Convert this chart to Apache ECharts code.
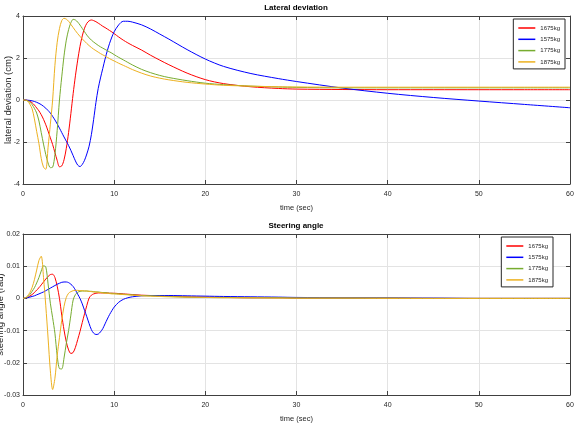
<!DOCTYPE html>
<html>
<head>
<meta charset="utf-8">
<script src="https://cdn.jsdelivr.net/npm/echarts@6/dist/echarts.min.js"></script>
<style>
  html, body { margin: 0; padding: 0; background: #fff; }
  #main { width: 576px; height: 430px; }
</style>
</head>
<body>
<div id="main"></div>
<script>
  // time in seconds, shared by every curve
  const time = [
    0, 0.25, 0.5, 0.75, 1, 1.25, 1.5, 1.75, 2, 2.25, 2.5, 2.75, 3, 3.25, 3.5, 3.75,
    4, 4.25, 4.5, 4.75, 5, 5.25, 5.5, 5.75, 6, 6.25, 6.5, 6.75, 7, 7.25, 7.5, 7.75,
    8, 8.25, 8.5, 8.75, 9, 9.25, 9.5, 9.75, 10, 10.5, 11, 11.5, 12, 13, 14, 15, 16,
    18, 20, 22, 25, 28, 30, 35, 40, 45, 50, 55, 60
  ]
  const masses = ['1675kg', '1575kg', '1775kg', '1875kg']

  // lateral deviation (cm)
  const lat1675 = [
    0, 0, -0.02, -0.06, -0.13, -0.24, -0.38, -0.52, -0.7, -0.92, -1.18, -1.48, -1.8, -2.12, -2.5, -2.88,
    -3.18, -3.14, -2.85, -2.3, -1.55, -0.65, 0.3, 1.15, 1.9, 2.55, 3.05, 3.42, 3.65, 3.77, 3.81, 3.78,
    3.73, 3.66, 3.59, 3.51, 3.45, 3.38, 3.31, 3.24, 3.16, 3.0, 2.85, 2.72, 2.6, 2.38, 2.13, 1.9, 1.68,
    1.28, 0.97, 0.78, 0.63, 0.55, 0.52, 0.5, 0.49, 0.49, 0.49, 0.49, 0.49
  ]
  const lat1575 = [
    0, 0, -0.01, -0.02, -0.04, -0.07, -0.11, -0.16, -0.22, -0.3, -0.39, -0.5, -0.62, -0.78, -0.95, -1.14,
    -1.34, -1.55, -1.76, -1.96, -2.17, -2.4, -2.65, -2.9, -3.1, -3.17, -3.07, -2.87, -2.57, -2.2, -1.65, -0.92,
    -0.12, 0.55, 1.05, 1.5, 1.95, 2.35, 2.7, 3.0, 3.25, 3.58, 3.75, 3.75, 3.71, 3.58, 3.38, 3.14, 2.9,
    2.4, 1.95, 1.6, 1.26, 1.02, 0.88, 0.57, 0.32, 0.12, -0.05, -0.21, -0.37
  ]
  const lat1775 = [
    0, -0.01, -0.03, -0.1, -0.22, -0.4, -0.62, -1.0, -1.55, -2.1, -2.6, -3.0, -3.22, -3.2, -2.6, -1.45,
    0, 1.1, 2.1, 2.85, 3.35, 3.68, 3.84, 3.81, 3.71, 3.57, 3.41, 3.25, 3.09, 2.96, 2.85, 2.76,
    2.68, 2.6, 2.53, 2.47, 2.41, 2.35, 2.29, 2.23, 2.16, 2.03, 1.91, 1.79, 1.67, 1.46, 1.3, 1.17, 1.07,
    0.92, 0.8, 0.73, 0.66, 0.62, 0.6, 0.58, 0.58, 0.58, 0.58, 0.58, 0.58
  ]
  const lat1875 = [
    0, -0.01, -0.05, -0.2, -0.42, -0.9, -1.5, -2.08, -2.78, -3.2, -3.3, -2.25, -1.15, 0, 1.65, 2.75,
    3.4, 3.78, 3.89, 3.85, 3.75, 3.6, 3.45, 3.3, 3.16, 3.03, 2.91, 2.8, 2.69, 2.59, 2.5, 2.42,
    2.35, 2.28, 2.21, 2.15, 2.09, 2.03, 1.97, 1.91, 1.86, 1.75, 1.65, 1.55, 1.45, 1.28, 1.14, 1.04, 0.96,
    0.84, 0.76, 0.7, 0.66, 0.63, 0.62, 0.61, 0.61, 0.61, 0.61, 0.61, 0.61
  ]

  // steering angle (rad)
  const steer1675 = [
    0, 0.0001, 0.0003, 0.0007, 0.0012, 0.0018, 0.0026, 0.0033, 0.0042, 0.0051, 0.006, 0.0068, 0.0074, 0.0075, 0.0065, 0.0038,
    0, -0.0052, -0.0098, -0.0135, -0.016, -0.0171, -0.0168, -0.0152, -0.0128, -0.0103, -0.0075, -0.0048, -0.0022, 0.0001, 0.001, 0.0014,
    0.0016, 0.0017, 0.0017, 0.0017, 0.0017, 0.0017, 0.0016, 0.0016, 0.0016, 0.0015, 0.0014, 0.0013, 0.0012, 0.001, 0.0009, 0.0008, 0.0007,
    0.0005, 0.0004, 0.0003, 0.0002, 0.0002, 0.0001, 0.0001, 0.0001, 0, 0, 0, 0
  ]
  const steer1575 = [
    0, 0.0001, 0.0002, 0.0004, 0.0006, 0.0008, 0.0011, 0.0014, 0.0017, 0.002, 0.0024, 0.0028, 0.0032, 0.0036, 0.004, 0.0044,
    0.0047, 0.005, 0.0051, 0.0051, 0.0049, 0.0044, 0.0037, 0.0026, 0.0013, 0, -0.0017, -0.0037, -0.0057, -0.0078, -0.0097, -0.0108,
    -0.0112, -0.0111, -0.0104, -0.0094, -0.0079, -0.0064, -0.005, -0.0038, -0.0027, -0.0012, -0.0003, 0.0002, 0.0005, 0.0008, 0.0009, 0.0009, 0.0009,
    0.0008, 0.0007, 0.0006, 0.0005, 0.0004, 0.0003, 0.0002, 0.0001, 0.0001, 0, 0, 0
  ]
  const steer1775 = [
    0, 0.0001, 0.0005, 0.0012, 0.0022, 0.0033, 0.0048, 0.0065, 0.0085, 0.0101, 0.0098, 0.0045, -0.0015, -0.006, -0.0108, -0.0178,
    -0.0218, -0.0219, -0.0185, -0.014, -0.01, -0.0052, -0.0005, 0.0012, 0.0019, 0.0022, 0.0023, 0.0023, 0.0023, 0.0022, 0.0022, 0.0021,
    0.002, 0.002, 0.0019, 0.0018, 0.0018, 0.0017, 0.0016, 0.0016, 0.0015, 0.0014, 0.0013, 0.0012, 0.0011, 0.0009, 0.0008, 0.0007, 0.0006,
    0.0004, 0.0003, 0.0003, 0.0002, 0.0002, 0.0001, 0.0001, 0.0001, 0, 0, 0, 0
  ]
  const steer1875 = [
    0, 0.0002, 0.0008, 0.0018, 0.0034, 0.0058, 0.0088, 0.0118, 0.0131, 0.0065, -0.0023, -0.0123, -0.0225, -0.0283, -0.0248, -0.0178,
    -0.0122, -0.0068, -0.0025, 0.0003, 0.0016, 0.0021, 0.0024, 0.0025, 0.0025, 0.0024, 0.0024, 0.0023, 0.0023, 0.0022, 0.0021, 0.002,
    0.002, 0.0019, 0.0018, 0.0017, 0.0016, 0.0016, 0.0015, 0.0014, 0.0014, 0.0013, 0.0012, 0.0011, 0.001, 0.0008, 0.0007, 0.0006, 0.0005,
    0.0004, 0.0003, 0.0002, 0.0002, 0.0001, 0.0001, 0.0001, 0, 0, 0, 0, 0
  ]

  const colors = ['#ff0000', '#0000ff', '#77ac30', '#edb120']
  const font = "'Liberation Sans', Arial, sans-serif"
  const frame = '#404040'
  const textColor = '#262626'

  function pairs(values) {
    return time.map((t, i) => [t, values[i]])
  }

  function makeSeries(name, values, axis) {
    return {
      name: name,
      type: 'line',
      xAxisIndex: axis,
      yAxisIndex: axis,
      data: pairs(values),
      symbol: 'none',
      smooth: 0.3,
      lineStyle: { width: 1 }
    }
  }

  function xAxes(grid, name) {
    return [{
      type: 'value', gridIndex: grid, min: 0, max: 60, interval: 10,
      name: name, nameLocation: 'middle', nameGap: 20, nameMoveOverlap: false,
      nameTextStyle: { fontSize: 7.5, fontFamily: font, color: textColor },
      axisLine: { onZero: false, lineStyle: { color: frame } },
      axisTick: { inside: true, length: 4, lineStyle: { color: frame } },
      axisLabel: { fontSize: 7, fontFamily: font, color: textColor, margin: 7 },
      splitLine: { lineStyle: { color: '#e3e3e3' } }
    }, {
      type: 'value', gridIndex: grid, min: 0, max: 60, interval: 10, position: 'top',
      axisLine: { onZero: false, lineStyle: { color: frame } },
      axisTick: { inside: true, length: 4, lineStyle: { color: frame } },
      axisLabel: { show: false },
      splitLine: { show: false }
    }]
  }

  function yAxes(grid, min, max, step, name, gap) {
    return [{
      type: 'value', gridIndex: grid, min: min, max: max, interval: step,
      name: name, nameLocation: 'middle', nameGap: gap, nameMoveOverlap: false,
      nameTextStyle: { fontSize: 9.5, fontFamily: font, color: textColor },
      axisLine: { show: true, onZero: false, lineStyle: { color: frame } },
      axisTick: { show: true, inside: true, length: 4, lineStyle: { color: frame } },
      axisLabel: {
        fontSize: 7, fontFamily: font, color: textColor, margin: 3,
        formatter: v => String(Math.round(v * 1000) / 1000)
      },
      splitLine: { lineStyle: { color: '#e3e3e3' } }
    }, {
      type: 'value', gridIndex: grid, min: min, max: max, interval: step, position: 'right',
      axisLine: { show: true, onZero: false, lineStyle: { color: frame } },
      axisTick: { show: true, inside: true, length: 4, lineStyle: { color: frame } },
      axisLabel: { show: false },
      splitLine: { show: false }
    }]
  }

  function legend(right, top) {
    return {
      data: masses, orient: 'vertical', right: right, top: top,
      icon: 'rect', itemWidth: 17, itemHeight: 1.5, itemGap: 3.3,
      padding: [5, 5, 3, 5],
      backgroundColor: '#fff', borderColor: textColor, borderWidth: 1, borderRadius: 0,
      textStyle: { fontSize: 6, lineHeight: 8, fontFamily: font, color: textColor }
    }
  }

  const chart = echarts.init(document.getElementById('main'))
  chart.setOption({
    backgroundColor: '#fff',
    color: colors,
    animation: false,
    title: [{
      text: 'Lateral deviation', left: 296, top: 4, textAlign: 'center', padding: 0,
      textStyle: { fontSize: 8, fontWeight: 'bold', fontFamily: font, color: '#000' }
    }, {
      text: 'Steering angle', left: 296, top: 222, textAlign: 'center', padding: 0,
      textStyle: { fontSize: 8, fontWeight: 'bold', fontFamily: font, color: '#000' }
    }],
    legend: [legend(11, 19), legend(23, 237)],
    grid: [
      { left: 23, right: 6, top: 16, height: 168, outerBoundsMode: 'none' },
      { left: 23, right: 6, top: 234, height: 161, outerBoundsMode: 'none' }
    ],
    xAxis: xAxes(0, 'time (sec)').concat(xAxes(1, 'time (sec)')),
    yAxis: yAxes(0, -4, 4, 2, 'lateral deviation (cm)', 10)
      .concat(yAxes(1, -0.03, 0.02, 0.01, 'steering angle (rad)', 18)),
    series: [
      makeSeries(masses[0], lat1675, 0),
      makeSeries(masses[1], lat1575, 0),
      makeSeries(masses[2], lat1775, 0),
      makeSeries(masses[3], lat1875, 0),
      makeSeries(masses[0], steer1675, 2),
      makeSeries(masses[1], steer1575, 2),
      makeSeries(masses[2], steer1775, 2),
      makeSeries(masses[3], steer1875, 2)
    ]
  })
</script>
</body>
</html>
